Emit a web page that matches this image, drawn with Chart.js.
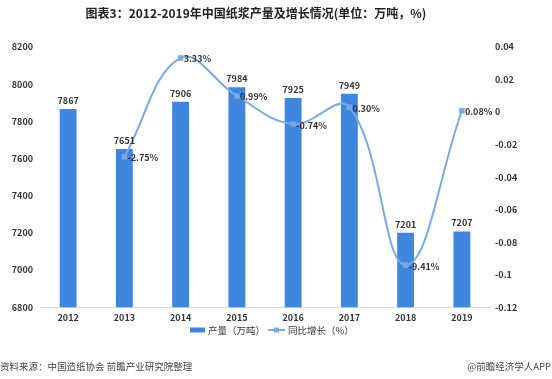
<!DOCTYPE html>
<html>
<head>
<meta charset="utf-8">
<script src="https://cdn.jsdelivr.net/npm/chart.js@4.4.0/dist/chart.umd.min.js"></script>
<style>
  html, body { margin: 0; padding: 0; background: #fff; }
  #wrap { width: 552px; height: 379px; position: relative; }
</style>
</head>
<body>
<div id="wrap"><canvas id="pulpChart" width="552" height="379"></canvas></div>
<script>
const years = ['2012', '2013', '2014', '2015', '2016', '2017', '2018', '2019'];
const output = [7867, 7651, 7906, 7984, 7925, 7949, 7201, 7207];
const growth = [null, -0.0275, 0.0333, 0.0099, -0.0074, 0.0030, -0.0941, 0.0008];
const leftTicks = [6800, 7000, 7200, 7400, 7600, 7800, 8000, 8200];
const rightTicks = [-0.12, -0.1, -0.08, -0.06, -0.04, -0.02, 0, 0.02, 0.04];

const barColor = '#3f86df';
const lineColor = '#78a9e8';
const font = '"Microsoft YaHei", "Noto Sans CJK SC", sans-serif';

// value labels, legend, title and source line
const extras = {
    id: 'extras',
    afterDatasetsDraw(chart) {
        const ctx = chart.ctx;
        ctx.save();
        ctx.fillStyle = '#333';
        ctx.font = 'bold 9px ' + font;
        ctx.textAlign = 'center';
        ctx.textBaseline = 'bottom';
        chart.getDatasetMeta(0).data.forEach((bar, i) => {
            ctx.fillText(String(output[i]), bar.x, bar.y - 4);
        });
        ctx.textAlign = 'left';
        ctx.textBaseline = 'middle';
        chart.getDatasetMeta(1).data.forEach((pt, i) => {
            if (growth[i] === null) return;
            ctx.fillText((growth[i] * 100).toFixed(2) + '%', pt.x + 3, pt.y + 1);
        });
        ctx.restore();
    },
    afterDraw(chart) {
        const ctx = chart.ctx;
        const ds = chart.data.datasets;
        ctx.save();
        // legend
        const ly = 330;
        ctx.fillStyle = barColor;
        ctx.fillRect(190, ly - 2.5, 15, 5);
        ctx.strokeStyle = lineColor;
        ctx.lineWidth = 2;
        ctx.beginPath(); ctx.moveTo(268, ly); ctx.lineTo(285, ly); ctx.stroke();
        ctx.fillStyle = lineColor;
        ctx.fillRect(274, ly - 2.5, 5, 5);
        ctx.fillStyle = '#333';
        ctx.font = '9.5px ' + font;
        ctx.textAlign = 'left';
        ctx.textBaseline = 'middle';
        ctx.fillText(ds[0].label, 208, ly);
        ctx.fillText(ds[1].label, 288, ly);
        // title
        ctx.fillStyle = '#222';
        ctx.font = 'bold 12px ' + font;
        ctx.textAlign = 'center';
        ctx.fillText('图表3：2012-2019年中国纸浆产量及增长情况(单位：万吨，%)', 256, 13);
        // source
        ctx.fillStyle = '#444';
        ctx.font = '9.5px ' + font;
        ctx.textAlign = 'left';
        ctx.fillText('资料来源：中国造纸协会 前瞻产业研究院整理', 0, 366);
        ctx.textAlign = 'right';
        ctx.fillText('@前瞻经济学人APP', 551, 366);
        ctx.restore();
    }
};

const ctx = document.getElementById('pulpChart').getContext('2d');
new Chart(ctx, {
    type: 'bar',
    data: {
        labels: years,
        datasets: [{
            label: '产量（万吨）',
            data: output,
            backgroundColor: barColor,
            yAxisID: 'y',
            barPercentage: 0.3,
            categoryPercentage: 1,
            order: 2
        }, {
            type: 'line',
            label: '同比增长（%）',
            data: growth,
            borderColor: lineColor,
            backgroundColor: lineColor,
            borderWidth: 2,
            tension: 0.4,
            pointStyle: 'rect',
            pointRadius: 2.5,
            yAxisID: 'y1',
            order: 1
        }]
    },
    options: {
        responsive: false,
        animation: false,
        layout: { padding: { top: 47, bottom: 51, left: 0, right: 0 } },
        plugins: {
            title: { display: false },
            tooltip: { enabled: false },
            legend: { display: false }
        },
        scales: {
            x: {
                grid: { display: false, drawTicks: false },
                border: { color: '#d9d9d9' },
                ticks: { color: '#333', font: { size: 9, weight: 'bold', family: font }, padding: 5 }
            },
            y: {
                position: 'left',
                min: 6800, max: 8200,
                afterBuildTicks(axis) { axis.ticks = leftTicks.map(v => ({ value: v })); },
                afterFit(axis) { axis.width = 40; },
                grid: { display: false, drawTicks: false },
                border: { display: false },
                ticks: {
                    color: '#333',
                    font: { size: 9, weight: 'bold', family: font },
                    padding: 7,
                    callback: v => String(v)
                }
            },
            y1: {
                position: 'right',
                min: -0.12, max: 0.04,
                afterBuildTicks(axis) { axis.ticks = rightTicks.map(v => ({ value: v })); },
                afterFit(axis) { axis.width = 62; },
                grid: { display: false, drawTicks: false },
                border: { display: false },
                ticks: {
                    color: '#333',
                    font: { size: 9, weight: 'bold', family: font },
                    padding: 5,
                    callback: v => String(Math.round(v * 100) / 100)
                }
            }
        }
    },
    plugins: [extras]
});
</script>
</body>
</html>
